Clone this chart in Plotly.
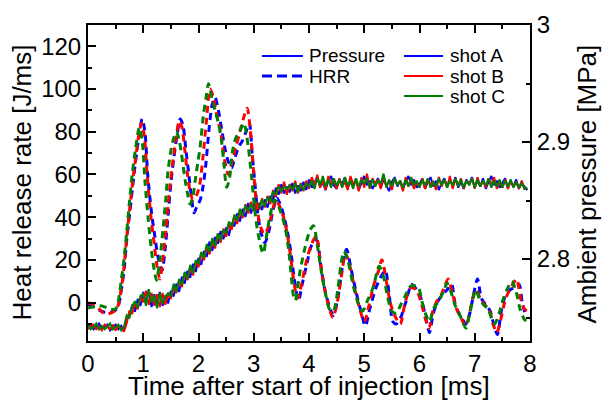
import numpy as np
import plotly.graph_objects as go

# ---------------- data ----------------
# Pressure sampling times [ms]
t_p = np.round(np.arange(0, 7.96, 0.05), 2)

p_A = [2.742, 2.744, 2.740, 2.743, 2.745, 2.740, 2.742, 2.744, 2.739, 2.742, 2.744, 2.740, 2.743, 2.739,
       2.749, 2.751, 2.761, 2.755, 2.766, 2.760,
       2.772, 2.762, 2.774, 2.759, 2.770, 2.761, 2.772, 2.760, 2.769, 2.762,
       2.773, 2.768, 2.779, 2.772, 2.785, 2.779, 2.790, 2.784, 2.796, 2.789,
       2.801, 2.795, 2.807, 2.802, 2.815, 2.807, 2.819, 2.813, 2.824, 2.817,
       2.827, 2.820, 2.831, 2.828, 2.839, 2.832, 2.843, 2.836, 2.848, 2.839,
       2.847, 2.840, 2.848, 2.842, 2.851, 2.844, 2.854, 2.850, 2.861, 2.855,
       2.864, 2.856, 2.862, 2.857, 2.865, 2.856, 2.863, 2.858, 2.866, 2.859,
       2.868, 2.861, 2.866, 2.870, 2.862, 2.865, 2.859, 2.867, 2.871, 2.863,
       2.860, 2.868, 2.864, 2.870, 2.861, 2.866, 2.862, 2.869, 2.859, 2.866,
       2.871, 2.863, 2.867, 2.860, 2.865, 2.869, 2.861, 2.868, 2.863, 2.858,
       2.866, 2.870, 2.862, 2.867, 2.860, 2.865, 2.871, 2.863, 2.868, 2.861,
       2.864, 2.869, 2.860, 2.866, 2.870, 2.862, 2.867, 2.859, 2.865, 2.869,
       2.862, 2.868, 2.863, 2.870, 2.861, 2.866, 2.860, 2.868, 2.864, 2.870,
       2.861, 2.867, 2.862, 2.869, 2.860, 2.866, 2.871, 2.863, 2.867, 2.861,
       2.865, 2.869, 2.861, 2.866, 2.862, 2.868, 2.860, 2.865, 2.862, 2.859]

p_B = [2.740, 2.743, 2.744, 2.740, 2.742, 2.739, 2.744, 2.742, 2.740, 2.744, 2.739, 2.743, 2.741, 2.738,
       2.745, 2.756, 2.753, 2.762, 2.757, 2.768,
       2.763, 2.773, 2.761, 2.771, 2.760, 2.770, 2.759, 2.771, 2.761, 2.770,
       2.766, 2.776, 2.771, 2.782, 2.776, 2.788, 2.782, 2.793, 2.786, 2.798,
       2.793, 2.805, 2.799, 2.811, 2.804, 2.816, 2.809, 2.821, 2.814, 2.826,
       2.819, 2.830, 2.825, 2.837, 2.830, 2.842, 2.835, 2.847, 2.839, 2.849,
       2.841, 2.851, 2.842, 2.852, 2.844, 2.854, 2.847, 2.859, 2.853, 2.864,
       2.856, 2.866, 2.855, 2.864, 2.858, 2.867, 2.856, 2.865, 2.858, 2.867,
       2.860, 2.870, 2.863, 2.872, 2.861, 2.867, 2.859, 2.871, 2.864, 2.868,
       2.860, 2.869, 2.862, 2.866, 2.859, 2.871, 2.864, 2.867, 2.858, 2.870,
       2.861, 2.873, 2.860, 2.869, 2.864, 2.868, 2.860, 2.871, 2.862, 2.867,
       2.859, 2.869, 2.864, 2.866, 2.858, 2.870, 2.862, 2.868, 2.860, 2.866,
       2.861, 2.869, 2.860, 2.868, 2.864, 2.866, 2.859, 2.870, 2.862, 2.868,
       2.861, 2.871, 2.860, 2.868, 2.863, 2.869, 2.860, 2.867, 2.864, 2.869,
       2.860, 2.870, 2.862, 2.867, 2.861, 2.869, 2.863, 2.870, 2.860, 2.866,
       2.861, 2.868, 2.860, 2.867, 2.862, 2.866, 2.860, 2.867, 2.860, 2.861]

p_C = [2.744, 2.740, 2.742, 2.745, 2.740, 2.743, 2.740, 2.742, 2.745, 2.740, 2.742, 2.744, 2.739, 2.742,
       2.752, 2.750, 2.760, 2.764, 2.758, 2.769,
       2.770, 2.760, 2.774, 2.763, 2.769, 2.758, 2.771, 2.762, 2.768, 2.771,
       2.768, 2.779, 2.772, 2.783, 2.778, 2.789, 2.783, 2.795, 2.788, 2.799,
       2.796, 2.806, 2.801, 2.813, 2.806, 2.818, 2.811, 2.822, 2.816, 2.825,
       2.822, 2.832, 2.828, 2.838, 2.833, 2.843, 2.837, 2.846, 2.841, 2.847,
       2.842, 2.849, 2.843, 2.851, 2.845, 2.853, 2.849, 2.858, 2.855, 2.862,
       2.858, 2.862, 2.860, 2.863, 2.859, 2.865, 2.857, 2.864, 2.859, 2.865,
       2.862, 2.867, 2.860, 2.869, 2.863, 2.871, 2.862, 2.868, 2.861, 2.869,
       2.863, 2.868, 2.861, 2.870, 2.863, 2.867, 2.860, 2.869, 2.862, 2.868,
       2.864, 2.869, 2.861, 2.868, 2.862, 2.867, 2.865, 2.873, 2.861, 2.868,
       2.862, 2.869, 2.863, 2.867, 2.861, 2.868, 2.862, 2.870, 2.863, 2.867,
       2.861, 2.868, 2.863, 2.869, 2.861, 2.866, 2.862, 2.869, 2.863, 2.868,
       2.861, 2.867, 2.863, 2.869, 2.862, 2.868, 2.861, 2.867, 2.863, 2.869,
       2.861, 2.868, 2.862, 2.867, 2.863, 2.869, 2.861, 2.867, 2.862, 2.868,
       2.861, 2.867, 2.862, 2.868, 2.861, 2.866, 2.861, 2.865, 2.860, 2.861]

# Heat release rate [J/ms]
t_hA = [0.00, 0.10, 0.20, 0.30, 0.40, 0.50, 0.55, 0.61, 0.66, 0.70, 0.76, 0.82, 0.88, 0.93, 0.98, 1.03,
        1.08, 1.15, 1.21, 1.27, 1.34, 1.40, 1.45, 1.50, 1.55, 1.61, 1.67, 1.72, 1.77, 1.82, 1.87, 1.92,
        1.97, 2.03, 2.08, 2.13, 2.19, 2.25, 2.30, 2.36, 2.42, 2.48, 2.54, 2.60, 2.66, 2.73, 2.80, 2.86,
        2.92, 2.97, 3.02, 3.08, 3.14, 3.20, 3.27, 3.34, 3.42, 3.48, 3.55, 3.61, 3.67, 3.73, 3.81, 3.88,
        3.96, 4.05, 4.14, 4.21, 4.28, 4.36, 4.44, 4.52, 4.60, 4.68, 4.76, 4.86, 4.95, 5.02, 5.10, 5.20,
        5.30, 5.38, 5.45, 5.52, 5.58, 5.66, 5.75, 5.86, 5.95, 6.04, 6.12, 6.18, 6.25, 6.34, 6.43, 6.50,
        6.58, 6.64, 6.71, 6.78, 6.84, 6.91, 6.98, 7.05, 7.12, 7.20, 7.28, 7.35, 7.41, 7.48, 7.55, 7.64,
        7.72, 7.80, 7.86, 7.93]
hrr_A = [-1, -2, -3.5, -4.5, -4.5, -3.5, -1.5, 7, 17, 29, 43, 57, 70, 79, 86, 80,
         60, 42, 31, 21, 15, 26, 41, 56, 67, 78, 86, 83, 72, 61, 50, 42,
         45, 48, 54, 64, 81, 93, 96, 90, 81, 72, 66, 63, 68, 73, 76, 80,
         84, 70, 56, 40, 32, 28, 33, 42, 49, 46, 40, 33, 24, 12, 1, 9,
         18, 27, 29, 18, 7, -1, -6, 2, 16, 25, 16, 4, -5, -11, -3, 6,
         12, 15, 4, -9, -10, -7, 0, 8.5, 6, 1, -8, -14, -5, 1, 4, 6,
         8.5, 0, -5, -8, -10, -5, 4, 11, 2, -1, -4, -11, -15, -4, 3, 6,
         7, 8.5, 0, -7]

t_hB = [0.00, 0.10, 0.20, 0.28, 0.40, 0.50, 0.55, 0.60, 0.65, 0.70, 0.76, 0.82, 0.88, 0.93, 0.97, 1.02,
        1.07, 1.14, 1.20, 1.25, 1.30, 1.37, 1.43, 1.48, 1.54, 1.60, 1.65, 1.70, 1.75, 1.80, 1.85, 1.90,
        1.96, 2.02, 2.08, 2.14, 2.21, 2.27, 2.33, 2.40, 2.47, 2.54, 2.60, 2.67, 2.74, 2.81, 2.88, 2.94,
        3.00, 3.06, 3.13, 3.19, 3.26, 3.33, 3.40, 3.47, 3.54, 3.60, 3.66, 3.72, 3.79, 3.86, 3.94, 4.04,
        4.13, 4.20, 4.27, 4.35, 4.43, 4.51, 4.59, 4.66, 4.74, 4.84, 4.93, 5.00, 5.08, 5.17, 5.26, 5.32,
        5.40, 5.47, 5.55, 5.65, 5.74, 5.84, 5.94, 6.03, 6.10, 6.17, 6.24, 6.32, 6.40, 6.46, 6.52, 6.60,
        6.67, 6.75, 6.83, 6.90, 6.96, 7.02, 7.10, 7.18, 7.26, 7.33, 7.40, 7.47, 7.55, 7.63, 7.70, 7.76,
        7.83, 7.90, 7.95]
hrr_B = [0, -1, -3, -5, -5, -3.5, -1, 6, 16, 30, 45, 59, 71, 80, 84, 78,
         60, 40, 27, 17, 11, 24, 40, 54, 67, 78, 85, 82, 72, 60, 52, 48,
         50, 55, 68, 84, 100, 96, 88, 80, 67, 60, 65, 72, 79, 86, 91, 80,
         60, 44, 35, 32, 35, 42, 48, 45, 40, 33, 23, 11, 2, 8, 18, 27,
         31, 20, 8, -1, -7, 0, 13, 23, 17, 5, -4, -9, -2, 8, 15, 20,
         10, 0, -6, -10, 0, 7, 6, 0, -7, -12, -4, 1, 4, 8, 11, 4,
         -3, -7, -11, -6, 2, 6, 2, -1, -3, -10, -14, -8, 1, 6, 9, 11,
         2, -3, -4]

t_hC = [0.00, 0.10, 0.20, 0.30, 0.40, 0.50, 0.55, 0.60, 0.65, 0.70, 0.75, 0.80, 0.86, 0.93, 0.98, 1.03,
        1.09, 1.15, 1.20, 1.24, 1.30, 1.36, 1.41, 1.45, 1.50, 1.54, 1.60, 1.65, 1.69, 1.76, 1.81, 1.85,
        1.90, 1.94, 1.99, 2.03, 2.09, 2.15, 2.18, 2.24, 2.30, 2.36, 2.41, 2.46, 2.51, 2.56, 2.61, 2.66,
        2.71, 2.76, 2.82, 2.90, 2.96, 3.02, 3.08, 3.17, 3.23, 3.29, 3.38, 3.48, 3.57, 3.63, 3.67, 3.72,
        3.75, 3.84, 3.93, 4.02, 4.08, 4.15, 4.22, 4.30, 4.37, 4.44, 4.52, 4.58, 4.63, 4.70, 4.80, 4.90,
        4.97, 5.06, 5.16, 5.27, 5.35, 5.42, 5.50, 5.58, 5.66, 5.74, 5.83, 5.90, 5.98, 6.05, 6.12, 6.18,
        6.25, 6.33, 6.43, 6.50, 6.57, 6.64, 6.71, 6.78, 6.84, 6.91, 6.98, 7.02, 7.08, 7.16, 7.24, 7.30,
        7.36, 7.44, 7.52, 7.60, 7.67, 7.74, 7.82, 7.90, 7.95]
hrr_C = [-2.5, -2, -1.5, -2, -3, -3, 1, 10, 20, 33, 47, 60, 72, 82, 76, 57,
         39, 24, 15, 10.5, 20, 35, 49, 62, 71, 76, 80, 76, 70, 57, 50, 46,
         50, 57, 66, 73, 88, 98, 102.5, 96, 90, 84, 77, 65, 54, 58, 70, 76,
         79, 81, 84, 73, 59, 43, 32, 23, 31, 40, 48, 43, 35, 25, 15, 3,
         1, 15, 26, 34, 36, 27, 15, 4, -3, -4, 6, 18, 24, 20, 8, -1,
         -4, 1, 7, 17, 12, 3, -4, -5, -1, 3, 7.5, 8, 7, 0, -6, -9,
         -3, 0, 5, 9, 5, -1, -4.5, -9, -12, -5, 3, 6, 2, -1, -3, -7,
         -10, -5, 2, 7, 10, 6, -3, -8, -9]

shot_names = ["shot A", "shot B", "shot C"]
shot_colors = ["#0000ff", "#ff0000", "#008000"]

x_title = "Time after start of injection [ms]"
y_left_title = "Heat release rate [J/ms]"
y_right_title = "Ambient pressure [MPa]"

# ---------------- figure ----------------
fig = go.Figure()

for name, col, p in zip(shot_names, shot_colors, [p_A, p_B, p_C]):
    fig.add_trace(go.Scatter(x=t_p, y=p, mode="lines", name=name, yaxis="y",
                             line=dict(color=col, width=2), showlegend=False))

for name, col, tt, hh in zip(shot_names, shot_colors, [t_hA, t_hB, t_hC], [hrr_A, hrr_B, hrr_C]):
    fig.add_trace(go.Scatter(x=tt, y=hh, mode="lines", name=name, yaxis="y2",
                             line=dict(color=col, width=3, dash="7px,5px", shape="spline", smoothing=0.8),
                             showlegend=False))

font_fam = "Arial, Liberation Sans, sans-serif"
tickfont = dict(family=font_fam, size=24, color="black")
titlefont = dict(family=font_fam, size=26, color="black")

fig.update_layout(
    width=604, height=401,
    margin=dict(l=88, r=74, t=25, b=60, autoexpand=False),
    paper_bgcolor="white", plot_bgcolor="white",
    showlegend=False,
    xaxis=dict(range=[0, 8], tickvals=[0, 1, 2, 3, 4, 5, 6, 7, 8], ticks="inside", ticklen=8,
               tickwidth=1.5, tickcolor="black", showline=True, linewidth=2, linecolor="black",
               mirror="ticks", showgrid=False, zeroline=False, tickfont=tickfont, automargin=False,
               minor=dict(dtick=0.5, tick0=0, ticks="inside", ticklen=4, tickwidth=1.5, tickcolor="black")),
    yaxis=dict(range=[2.73, 3.0], side="right", tickvals=[2.8, 2.9, 3.0], ticktext=["2.8", "2.9", "3"],
               ticks="inside", ticklen=8, tickwidth=1.5, tickcolor="black", showline=True,
               linewidth=2, linecolor="black", showgrid=False, zeroline=False, tickfont=tickfont,
               automargin=False,
               minor=dict(tickvals=[2.75, 2.85, 2.95], ticks="inside", ticklen=4, tickwidth=1.5,
                          tickcolor="black")),
    yaxis2=dict(range=[-18, 130], side="left", overlaying="y", tickvals=[0, 20, 40, 60, 80, 100, 120],
                ticks="inside", ticklen=8, tickwidth=1.5, tickcolor="black", showline=True,
                linewidth=2, linecolor="black", showgrid=False, zeroline=False, tickfont=tickfont,
                automargin=False,
                minor=dict(dtick=10, tick0=0, ticks="inside", ticklen=4, tickwidth=1.5, tickcolor="black")),
)

# axis titles as annotations (precise placement)
fig.add_annotation(xref="paper", yref="paper", x=0.5, y=-0.1424, text=x_title, showarrow=False,
                   xanchor="center", yanchor="middle", font=titlefont, borderpad=0)
fig.add_annotation(xref="paper", yref="paper", x=-0.149, y=0.502, text=y_left_title, showarrow=False,
                   textangle=-90, xanchor="center", yanchor="middle", font=titlefont, borderpad=0)
fig.add_annotation(xref="paper", yref="paper", x=1.129, y=0.495, text=y_right_title, showarrow=False,
                   textangle=-90, xanchor="center", yanchor="middle", font=titlefont, borderpad=0)

# ---------------- legend (drawn manually, two columns) ----------------
legfont = dict(family=font_fam, size=19, color="black")
x0a, x1a, xta = 0.3937, 0.4864, 0.4977
x0b, x1b, xtb = 0.7149, 0.8032, 0.8167
ya, yb, yc = 0.9019, 0.8386, 0.7753

fig.add_shape(type="line", xref="paper", yref="paper", x0=x0a, x1=x1a, y0=ya, y1=ya,
              line=dict(color="#0000ff", width=2))
fig.add_shape(type="line", xref="paper", yref="paper", x0=x0a, x1=x1a, y0=yb, y1=yb,
              line=dict(color="#0000ff", width=3, dash="10px,5px"))
fig.add_annotation(xref="paper", yref="paper", x=xta, y=ya, text="Pressure", showarrow=False,
                   xanchor="left", yanchor="middle", font=legfont, borderpad=0)
fig.add_annotation(xref="paper", yref="paper", x=xta, y=yb, text="HRR", showarrow=False,
                   xanchor="left", yanchor="middle", font=legfont, borderpad=0)

for name, col, yy in zip(shot_names, shot_colors, [ya, yb, yc]):
    fig.add_shape(type="line", xref="paper", yref="paper", x0=x0b, x1=x1b, y0=yy, y1=yy,
                  line=dict(color=col, width=2))
    fig.add_annotation(xref="paper", yref="paper", x=xtb, y=yy, text=name, showarrow=False,
                       xanchor="left", yanchor="middle", font=legfont, borderpad=0)

fig.write_html("out.html")
